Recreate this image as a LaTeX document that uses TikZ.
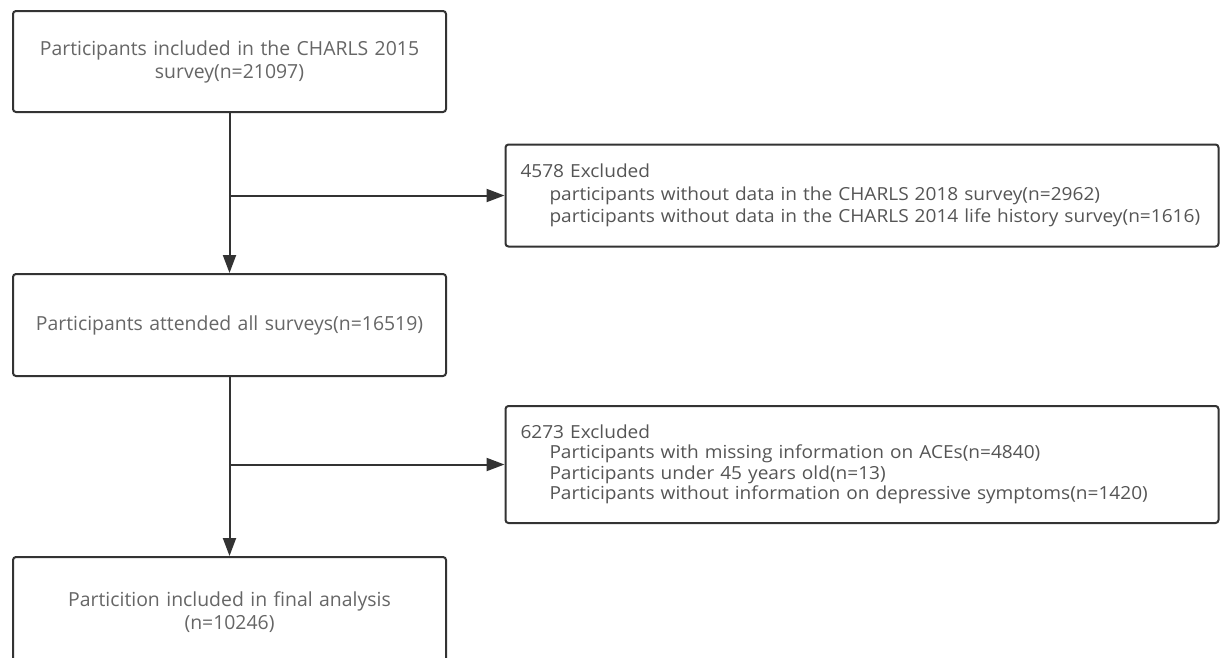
\documentclass[tikz,border=0pt]{standalone}
\usepackage{fontspec}
\setmainfont{Open Sans}
\newfontfamily\narrowfont[FakeStretch=1.06]{Open Sans}
\usetikzlibrary{arrows.meta}
\definecolor{edgecol}{HTML}{333333}
\definecolor{txtL}{HTML}{666666}
\definecolor{txtR}{HTML}{555555}
\begin{document}
\begin{tikzpicture}[x=1pt,y=-1pt,
  box/.style={draw=edgecol, line width=2pt, rounded corners=3pt, fill=white, inner sep=0pt},
  lbox/.style={box, minimum width=433pt, text width=420pt, align=center, text=txtL,
    font=\fontsize{19.4}{23}\selectfont},
  rbox/.style={box, minimum width=713pt, text width=683pt, inner xsep=15pt, align=left, text=txtR},
  conn/.style={draw=edgecol, line width=2pt},
  arr/.style={conn, -{Triangle[length=18pt,width=13pt]}}
]
\useasboundingbox (0,0) rectangle (1221,657);
\node[lbox, minimum height=101pt] (b1) at (229.5,61.5) {Participants included in the CHARLS 2015\\survey(n=21097)};
\node[rbox, minimum height=102pt, font=\narrowfont\fontsize{18}{22.5}\selectfont] (e1) at (862,195.5) {4578 Excluded\\
\hspace*{29pt}participants without data in the CHARLS 2018 survey(n=2962)\\
\hspace*{29pt}participants without data in the CHARLS 2014 life history survey(n=1616)};
\node[lbox, minimum height=102pt] (b2) at (229.5,325) {Participants attended all surveys(n=16519)};
\node[rbox, minimum height=117pt, font=\narrowfont\fontsize{18}{20.5}\selectfont] (e2) at (862,464.5) {6273 Excluded\\
\hspace*{29pt}Participants with missing information on ACEs(n=4840)\\
\hspace*{29pt}Participants under 45 years old(n=13)\\
\hspace*{29pt}Participants without information on depressive symptoms(n=1420)};
\node[lbox, minimum height=110pt] (b3) at (229.5,612) {Particition included in final analysis\\(n=10246)};
\coordinate (j1) at (229.5,195.5);
\coordinate (j2) at (229.5,464.5);
\draw[arr] (b1) -- (b2);
\draw[arr] (j1) -- (e1);
\draw[arr] (b2) -- (b3);
\draw[arr] (j2) -- (e2);
\end{tikzpicture}
\end{document}
